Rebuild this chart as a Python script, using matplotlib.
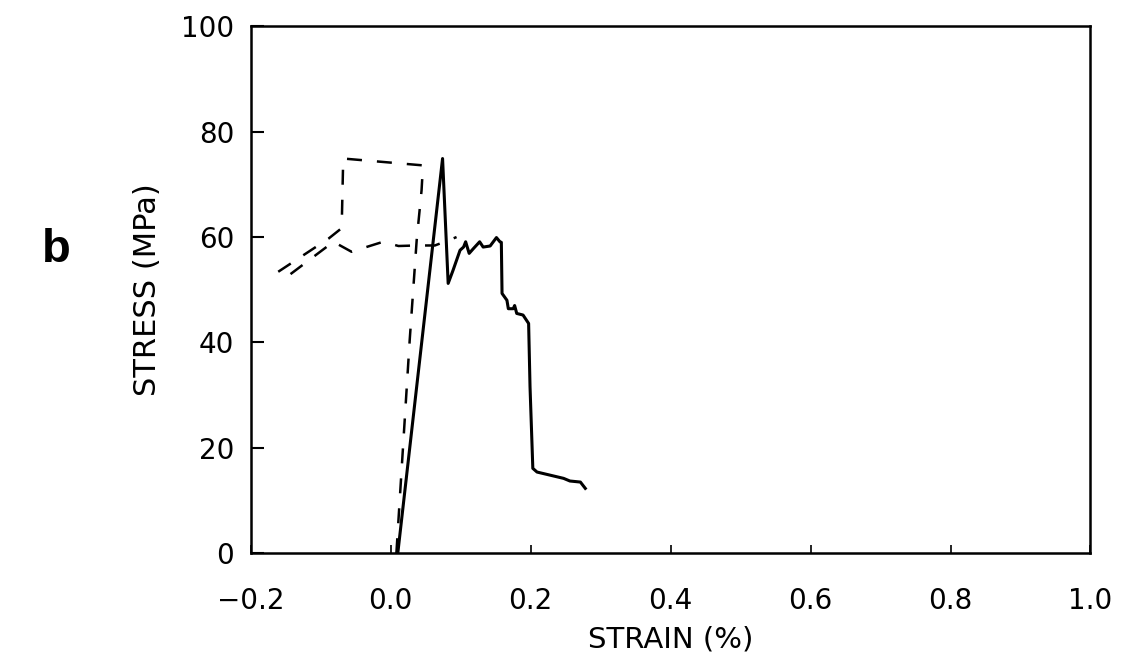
import matplotlib
matplotlib.use("Agg")
from matplotlib import pyplot as plt

# solid curve: stress-strain
solid_strain = [0.010, 0.074, 0.082, 0.089, 0.099, 0.104, 0.107, 0.112, 0.118, 0.127,
                0.132, 0.142, 0.151, 0.156, 0.158, 0.159, 0.166, 0.168, 0.175, 0.177,
                0.180, 0.189, 0.197, 0.199, 0.202, 0.203, 0.209, 0.228, 0.247, 0.256,
                0.271, 0.278]
solid_stress = [0.0, 74.9, 51.2, 53.7, 57.5, 58.1, 59.1, 56.9, 57.8, 59.1,
                58.1, 58.3, 59.9, 59.1, 59.0, 49.3, 48.0, 46.4, 46.4, 47.0,
                45.5, 45.2, 43.6, 31.6, 20.0, 16.1, 15.4, 14.8, 14.2, 13.7,
                13.5, 12.3]

# dashed curve
dash_strain = [0.008, 0.027, 0.037, 0.044, 0.046, -0.068, -0.070, -0.072, -0.089, -0.161,
               -0.149, -0.082, -0.056, -0.035, -0.011, 0.011, 0.037, 0.063, 0.085, 0.094]
dash_stress = [0.0, 40.4, 59.4, 68.9, 73.6, 74.9, 62.9, 61.5, 59.7, 53.4,
               52.4, 59.1, 57.2, 58.1, 59.1, 58.3, 58.4, 58.4, 59.5, 60.0]

xticks = [-0.2, 0.0, 0.2, 0.4, 0.6, 0.8, 1.0]
xticklabels = ['\u22120.2', '0.0', '0.2', '0.4', '0.6', '0.8', '1.0']
yticks = [0, 20, 40, 60, 80, 100]

fig = plt.figure(figsize=(11.3, 6.57), dpi=100)
ax = fig.add_axes([0.222, 0.158, 0.743, 0.802])

ax.plot(solid_strain, solid_stress, '-', color='black', lw=2.2)
ax.plot(dash_strain, dash_stress, '--', color='black', lw=1.8, dashes=(6, 6))

ax.set_xlim(-0.2, 1.0)
ax.set_ylim(0, 100)
ax.set_xticks(xticks)
ax.set_yticks(yticks)
ax.set_xticklabels(xticklabels)
ax.tick_params(axis='y', direction='in', length=9, width=1.5, labelsize=20, pad=12)
ax.tick_params(axis='x', direction='in', length=6, width=1.2, labelsize=20, pad=24)
for sp in ax.spines.values():
    sp.set_linewidth(1.8)

ax.set_xlabel('STRAIN (%)', fontsize=21, labelpad=8)
ax.set_ylabel('STRESS (MPa)', fontsize=22, labelpad=14)

fig.text(0.05, 0.62, 'b', fontsize=34, fontweight='bold', family='Liberation Sans',
         ha='center', va='center')

fig.savefig('out.png', dpi=100)
